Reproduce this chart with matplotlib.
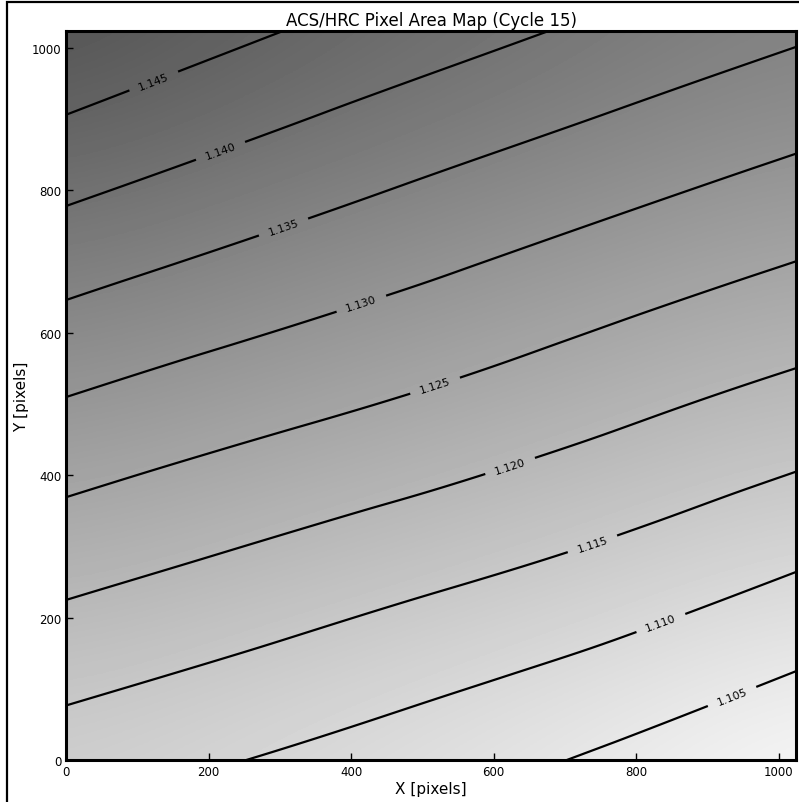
import numpy as np
import matplotlib
matplotlib.use("Agg")
import matplotlib.pyplot as plt
import matplotlib.tri as mtri
from matplotlib.patches import Rectangle

x_nodes = [0, 256, 512, 768, 1024]
y_nodes = [0, 256, 512, 768, 1024]
area_y0    = [1.11245, 1.10997, 1.10728, 1.10414, 1.10050]
area_y256  = [1.12107, 1.11843, 1.11578, 1.11303, 1.10971]
area_y512  = [1.13008, 1.12725, 1.12460, 1.12166, 1.11870]
area_y768  = [1.13961, 1.13630, 1.13317, 1.13015, 1.12723]
area_y1024 = [1.14970, 1.14570, 1.14215, 1.13884, 1.13575]
levels = [1.105, 1.110, 1.115, 1.120, 1.125, 1.130, 1.135, 1.140, 1.145]

# where the contour labels sit (data coords), one per level
label_spots = [(934, 90), (835, 191), (739, 302), (623, 413), (518, 525),
               (414, 642), (305, 749), (217, 855), (123, 954)]

Z = np.array([area_y0, area_y256, area_y512, area_y768, area_y1024])
X, Y = np.meshgrid(x_nodes, y_nodes)
half = (x_nodes[1] - x_nodes[0]) / 2

# smooth the coarse grid for the contour lines
tri = mtri.Triangulation(X.ravel(), Y.ravel())
refiner = mtri.UniformTriRefiner(tri)
tri_f, z_f = refiner.refine_field(Z.ravel(), subdiv=4)

fig = plt.figure(figsize=(7.99, 8.03), dpi=100)
ax = fig.add_axes([66/799, 42/803, 730/799, 729/803])

ax.imshow(Z, origin="lower", cmap="gray_r", vmin=1.0990, vmax=1.1730,
          interpolation="bicubic",
          extent=(x_nodes[0]-half, x_nodes[-1]+half, y_nodes[0]-half, y_nodes[-1]+half))
cs = ax.tricontour(tri_f, z_f, levels=levels, colors="k", linewidths=1.6)
ax.clabel(cs, fmt="%.3f", fontsize=8, inline=True, manual=label_spots)

ax.set_xlim(0, 1024)
ax.set_ylim(0, 1024)
ax.set_aspect("auto")
ax.set_xticks([0, 200, 400, 600, 800, 1000])
ax.set_yticks([0, 200, 400, 600, 800, 1000])
ax.tick_params(direction="in", length=5, width=1, labelsize=8.5,
               top=False, right=False)
for s in ax.spines.values():
    s.set_linewidth(2.2)
ax.set_xlabel("X [pixels]", fontsize=11, labelpad=2)
ax.set_ylabel("Y [pixels]", fontsize=11, labelpad=2)
ax.set_title("ACS/HRC Pixel Area Map (Cycle 15)", fontsize=12, pad=4)

# frame round the whole figure (runs off the right and bottom edge)
fig.add_artist(Rectangle((7/799, -0.05), 1.1, 1.05 - 3/803, transform=fig.transFigure,
                         fill=False, edgecolor="k", linewidth=1.6, clip_on=False))

fig.savefig("out.png", dpi=100)
